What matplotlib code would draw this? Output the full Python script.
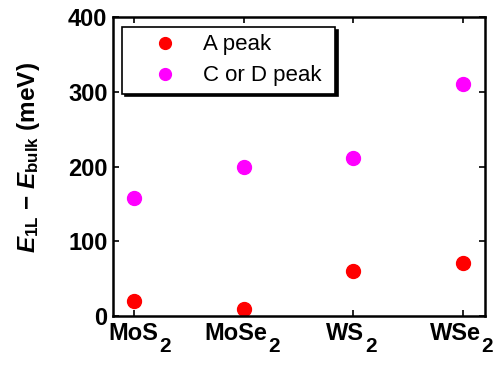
import matplotlib
matplotlib.use("Agg")
import matplotlib.pyplot as plt

cat_names = ["MoS", "MoSe", "WS", "WSe"]
cat_subs = ["2", "2", "2", "2"]
a_peak = [20, 10, 60, 71]
cd_peak = [158, 200, 211, 310]
yticks = [0, 100, 200, 300, 400]

plt.rcParams["font.family"] = ["Liberation Sans", "DejaVu Sans"]
plt.rcParams["mathtext.fontset"] = "custom"
plt.rcParams["mathtext.rm"] = "Liberation Sans:bold"
plt.rcParams["mathtext.it"] = "Liberation Sans:bold:italic"
plt.rcParams["mathtext.bf"] = "Liberation Sans:bold"

fig = plt.figure(figsize=(4.98, 3.65), dpi=100)
ax = fig.add_axes([113/498, 1-316/365, (485-113)/498, (316-17)/365])

x = list(range(1, len(cat_names) + 1))
ax.plot(x, a_peak, "o", color="#ff0000", markersize=10, label="A peak", linestyle="none")
ax.plot(x, cd_peak, "o", color="#ff00ff", markersize=10, label="C or D peak", linestyle="none")

ax.set_xlim(0.81, 4.2)
ax.set_ylim(0, 400)
ax.set_xticks(x)
ax.set_xticklabels([])
ax.set_yticks(yticks)
ax.set_yticklabels([str(v) for v in yticks], fontsize=17, fontweight="bold")
ax.tick_params(direction="in", top=True, right=True, length=4.5, width=1.2, pad=4)
for s in ax.spines.values():
    s.set_linewidth(1.8)

ax.set_ylabel(r"$E_{\rm 1L}$ $-$ $E_{\rm bulk}$ (meV)", fontsize=17.5, fontweight="bold")
ax.yaxis.set_label_coords(-0.19, 0.53)

leg = ax.legend(loc="upper left", bbox_to_anchor=(9/372, 1-10/299, 213/372, 0.0001),
                mode="expand", fontsize=16, frameon=True, fancybox=False,
                edgecolor="black", borderpad=0.33, handletextpad=0.13,
                labelspacing=0.45, handlelength=3.17, borderaxespad=0, markerscale=0.85,
                shadow={"color": "black", "alpha": 1.0}, framealpha=1.0)
leg.get_frame().set_linewidth(1.2)

# x tick labels with large subscripts
fig.canvas.draw()
renderer = fig.canvas.get_renderer()
xform = ax.get_xaxis_transform()
shifts = [7, 0, 0, 0]
for i, (name, sub) in enumerate(zip(cat_names, cat_subs)):
    t = ax.annotate(name, xy=(x[i], 0), xycoords=xform, xytext=(-8 + shifts[i], -6),
                    textcoords="offset pixels", ha="center", va="top",
                    fontsize=17, fontweight="bold", annotation_clip=False)
    bb = t.get_window_extent(renderer)
    tick_px = ax.transData.transform((x[i], 0))[0]
    ax.annotate(sub, xy=(x[i], 0), xycoords=xform, xytext=(bb.x1 - tick_px + 1, -21),
                textcoords="offset pixels", ha="left", va="top",
                fontsize=15, fontweight="bold", annotation_clip=False)

fig.savefig("out.png", dpi=100)
